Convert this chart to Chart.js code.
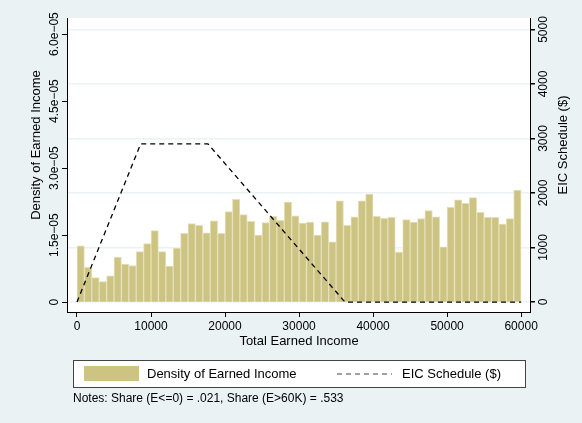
<!DOCTYPE html>
<html><head><meta charset="utf-8">
<script src="https://cdn.jsdelivr.net/npm/chart.js@4"></script>
<style>body{margin:0;background:#eaf2f3}#wrap{width:582px;height:423px}</style>
</head><body><div id="wrap"><canvas id="c"></canvas></div>
<script>
// histogram bins of 1000, centers 500..59500
const binCenters = [];
for (let i = 0; i < 60; i++) binCenters.push(i * 1000 + 500);
const density = [1.26,0.78,0.55,0.46,0.59,1.01,0.85,0.82,1.13,1.31,1.60,1.13,0.81,1.21,1.54,1.76,1.72,1.55,1.82,1.54,
  2.03,2.30,1.96,1.81,1.50,1.78,1.92,1.83,2.24,1.93,1.77,1.79,1.50,1.80,1.35,2.27,1.72,1.91,2.27,2.42,
  1.92,1.875,1.90,1.12,1.85,1.79,1.87,2.05,1.91,1.24,2.12,2.29,2.21,2.34,2.01,1.90,1.90,1.75,1.87,2.51].map(v => v * 1e-5);
const eicIncome = [0, 8600, 17700, 36200, 60000];
const eicAmount = [0, 2900, 2900, 0, 0];
const xTicks = [0, 10000, 20000, 30000, 40000, 50000, 60000];
const yTicks = [0, 1.5e-5, 3.0e-5, 4.5e-5, 6.0e-5];
const yTickLabels = ['0', '1.5e\u221205', '3.0e\u221205', '4.5e\u221205', '6.0e\u221205'];
const y2Ticks = [0, 1000, 2000, 3000, 4000, 5000];

const font = 'Liberation Sans, Arial, sans-serif';
const barColor = '#cdc483';

const decor = {
  id: 'decor',
  beforeDraw(chart) {
    const {ctx, chartArea: a} = chart;
    ctx.save();
    ctx.fillStyle = '#eaf2f3';
    ctx.fillRect(0, 0, chart.width, chart.height);
    ctx.fillStyle = '#fff';
    ctx.fillRect(a.left, a.top, a.right - a.left, a.bottom - a.top);
    ctx.restore();
  },
  afterDraw(chart) {
    const {ctx, chartArea: a, scales} = chart;
    ctx.save();
    ctx.fillStyle = '#000';
    ctx.font = '12px ' + font;
    ctx.textAlign = 'center';
    ctx.textBaseline = 'middle';
    // rotated left tick labels
    yTicks.forEach((v, i) => {
      const y = scales.y.getPixelForValue(v);
      ctx.save(); ctx.translate(55, y); ctx.rotate(-Math.PI / 2);
      ctx.fillText(yTickLabels[i], 0, 0); ctx.restore();
    });
    y2Ticks.forEach(v => {
      const y = scales.y2.getPixelForValue(v);
      ctx.save(); ctx.translate(544, y); ctx.rotate(-Math.PI / 2);
      ctx.fillText(String(v), 0, 0); ctx.restore();
    });
    ctx.font = '13px ' + font;
    const midY = (a.top + a.bottom) / 2 - 20;
    ctx.save(); ctx.translate(36, midY); ctx.rotate(-Math.PI / 2);
    ctx.fillText('Density of Earned Income', 0, 0); ctx.restore();
    ctx.save(); ctx.translate(563, midY); ctx.rotate(-Math.PI / 2);
    ctx.fillText('EIC Schedule ($)', 0, 0); ctx.restore();
    ctx.fillText('Total Earned Income', 299, 341);
    // legend box
    ctx.fillStyle = '#fff';
    ctx.fillRect(73, 360, 452, 27);
    ctx.strokeStyle = '#444'; ctx.lineWidth = 1;
    ctx.strokeRect(73.5, 360.5, 452, 27);
    ctx.fillStyle = barColor;
    ctx.fillRect(84, 366, 55, 15);
    ctx.fillStyle = '#000';
    ctx.textAlign = 'left';
    ctx.fillText('Density of Earned Income', 147, 374);
    ctx.setLineDash([5, 4]);
    ctx.beginPath(); ctx.moveTo(337, 374); ctx.lineTo(392, 374); ctx.stroke();
    ctx.setLineDash([]);
    ctx.fillText('EIC Schedule ($)', 402, 374);
    ctx.font = '12px ' + font;
    ctx.fillText('Notes: Share (E<=0) = .021, Share (E>60K) = .533', 73, 399);
    ctx.restore();
  }
};

new Chart(document.getElementById('c'), {
  data: {
    datasets: [
      {
        type: 'line', label: 'EIC Schedule ($)', yAxisID: 'y2',
        data: eicIncome.map((x, i) => ({x: x, y: eicAmount[i]})),
        borderColor: '#000', borderWidth: 1.3, borderDash: [5, 4],
        pointRadius: 0, fill: false, tension: 0
      },
      {
        type: 'bar', label: 'Density of Earned Income', yAxisID: 'y',
        data: binCenters.map((x, i) => ({x: x, y: density[i]})),
        backgroundColor: barColor, borderColor: '#e4e0b8', borderWidth: 1,
        barPercentage: 1, categoryPercentage: 1, grouped: false
      }
    ]
  },
  options: {
    animation: false, responsive: true, maintainAspectRatio: false,
    layout: {padding: {top: 18, bottom: 71}},
    plugins: {legend: {display: false}, tooltip: {enabled: false}},
    scales: {
      x: {
        type: 'linear', min: -1350, max: 61200, offset: false,
        afterBuildTicks: s => { s.ticks = xTicks.map(v => ({value: v})); },
        afterFit: s => { s.height = 40; },
        ticks: {color: '#000', font: {family: font, size: 12}, maxRotation: 0, padding: 2,
          callback: v => String(v)},
        grid: {display: true, offset: false, drawOnChartArea: false, tickLength: 5, color: '#000'},
        border: {color: '#000'}
      },
      y: {
        position: 'left', min: -2.2e-6, max: 6.36e-5,
        afterBuildTicks: s => { s.ticks = yTicks.map(v => ({value: v})); },
        afterFit: s => { s.width = 67; },
        ticks: {display: false},
        grid: {drawOnChartArea: false, tickLength: 5, color: '#000'},
        border: {color: '#000'}
      },
      y2: {
        position: 'right', min: -183, max: 5211,
        afterBuildTicks: s => { s.ticks = y2Ticks.map(v => ({value: v})); },
        afterFit: s => { s.width = 52; },
        ticks: {display: false},
        grid: {color: '#eaf2f3', tickLength: 5, tickColor: '#000', lineWidth: 1.5},
        border: {color: '#000'}
      }
    }
  },
  plugins: [decor]
});
</script></body></html>
